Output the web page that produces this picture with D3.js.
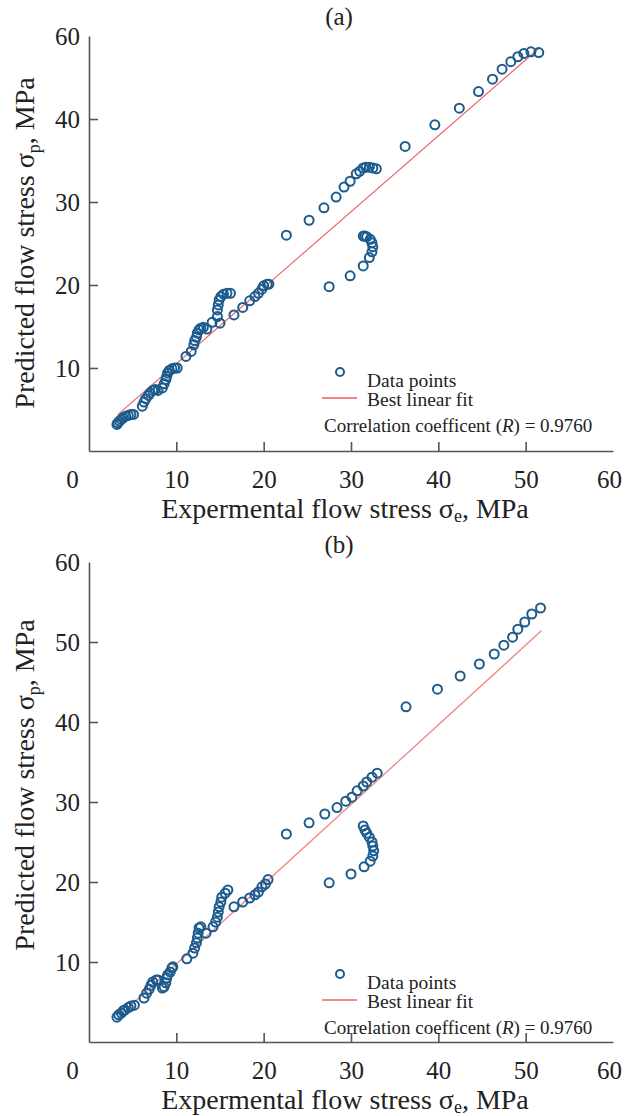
<!DOCTYPE html>
<html>
<head>
<meta charset="utf-8">
<script src="https://cdn.jsdelivr.net/npm/d3@7"></script>
<style>
  body { margin: 0; background: #fff; }
  svg { display: block; font-family: "Liberation Serif", "Times New Roman", serif; }
  .tick text { font-size: 25px; fill: #222; font-family: "Liberation Serif", "Times New Roman", serif; }
  .domain, .tick line { stroke: #555; stroke-width: 1.6; }
</style>
</head>
<body>
<svg width="637" height="1116"></svg>
<script>
// panel (a)
let expA = [3.2, 3.3, 3.5, 3.7, 3.9, 4.2, 4.5, 4.8, 5.1,
  6.1, 6.3, 6.5, 6.8, 7.0, 7.3, 7.6, 7.9,
  8.4, 8.6, 8.8, 8.9, 9.0, 9.2, 9.5, 9.8, 10.1,
  11.1, 11.7,
  12.0, 12.1, 12.3, 12.4, 12.6, 12.8, 13.1, 13.5,
  14.1, 14.7, 15.0,
  14.7, 14.8, 14.9, 15.1, 15.4, 15.8, 16.2,
  16.6, 17.6, 18.4, 19.0, 19.4, 19.8, 20.0, 20.4, 20.6,
  22.6, 25.2, 26.9, 28.3,
  29.2, 29.9, 30.6, 31.0, 31.4, 31.7, 32.1, 32.5, 32.9,
  27.5, 29.9, 31.4, 32.1, 32.4, 32.5, 32.4, 32.2, 31.8, 31.6, 31.4,
  36.2, 39.6, 42.4, 44.6, 46.2, 47.3, 48.3, 49.1, 49.8, 50.6, 51.5];
let predA = [3.2, 3.4, 3.6, 3.8, 4.0, 4.2, 4.3, 4.4, 4.4,
  5.4, 5.9, 6.3, 6.7, 7.0, 7.3, 7.4, 7.3,
  7.6, 8.1, 8.6, 9.0, 9.4, 9.7, 9.9, 10.0, 10.0,
  11.4, 12.0,
  12.8, 13.3, 13.7, 14.2, 14.6, 14.8, 14.9, 14.7,
  15.5, 16.2, 15.4,
  17.0, 17.6, 18.2, 18.6, 18.9, 19.0, 19.0,
  16.4, 17.3, 18.1, 18.6, 19.0, 19.5, 19.9, 20.1, 20.1,
  26.0, 27.8, 29.3, 30.6,
  31.8, 32.5, 33.4, 33.7, 34.1, 34.2, 34.2, 34.1, 34.0,
  19.8, 21.1, 22.3, 23.3, 24.0, 24.6, 25.1, 25.5, 25.8, 25.9, 25.9,
  36.7, 39.3, 41.3, 43.3, 44.8, 46.0, 46.9, 47.5, 47.9, 48.1, 48.0];
let fitA = { slope: 0.915, intercept: 1.37, from: 3.3, to: 51.5 };

// panel (b)
let expB = [3.2, 3.4, 3.7, 3.9, 4.1, 4.5, 4.8, 5.2,
  6.3, 6.6, 6.9, 7.1, 7.3, 7.7, 7.9,
  8.4, 8.6, 8.8, 8.9, 9.0, 9.3, 9.5, 9.6,
  11.2, 11.9,
  12.1, 12.3, 12.4, 12.5, 12.6, 12.8,
  13.4, 14.2,
  14.5, 14.7, 14.8, 14.9, 15.1, 15.2, 15.6, 15.9,
  16.6, 17.6, 18.4, 19.0, 19.4, 19.8, 20.2, 20.5,
  22.6, 25.2, 27.0, 28.4, 29.4, 30.1, 30.7, 31.4, 31.8, 32.4, 33.0,
  27.5, 30.0, 31.5, 32.2, 32.5, 32.6, 32.5, 32.4, 32.1, 31.8, 31.6, 31.4,
  36.3, 39.9, 42.5, 44.7, 46.4, 47.5, 48.5, 49.1, 49.9, 50.7, 51.7];
let predB = [3.1, 3.4, 3.6, 3.9, 4.0, 4.3, 4.5, 4.6,
  5.5, 6.1, 6.6, 7.1, 7.5, 7.75, 7.75,
  6.75, 6.9, 7.4, 8.0, 8.4, 8.75, 9.25, 9.4,
  10.4, 11.1,
  11.75, 12.4, 13.0, 13.6, 14.25, 14.4,
  13.6, 14.4,
  15.0, 15.6, 16.25, 16.9, 17.5, 18.1, 18.6, 19.0,
  16.9, 17.5, 18.0, 18.4, 18.75, 19.4, 19.75, 20.3,
  26.0, 27.4, 28.5, 29.3, 30.1, 30.6, 31.4, 32.0, 32.5, 33.1, 33.6,
  19.9, 21.0, 21.9, 22.6, 23.25, 23.9, 24.5, 25.0, 25.6, 26.1, 26.5, 27.0,
  41.9, 44.1, 45.75, 47.25, 48.5, 49.6, 50.6, 51.6, 52.5, 53.5, 54.25];
let fitB = { slope: 0.996, intercept: -0.2, from: 3.3, to: 51.8 };

let xTicks = [0, 10, 20, 30, 40, 50, 60];
let yTicksA = [10, 20, 30, 40, 50];
let yTickLabelsA = ['10', '20', '30', '40', '60'];
let yTicksB = [10, 20, 30, 40, 50, 60];
let yTickLabelsB = ['10', '20', '30', '40', '50', '60'];
let legendText = ['Data points', 'Best linear fit'];
let corrText = '0.9760';

let svg = d3.select('svg');

let panels = [
  { title: '(a)', xs: expA, ys: predA, fit: fitA, yDomain: [0, 50], yTicks: yTicksA, yLabels: yTickLabelsA,
    top: 36, bottom: 451, titleY: 25, yTitleY: 243, legY: 372, fitColor: '#f05a5a', fitW: 1.1 },
  { title: '(b)', xs: expB, ys: predB, fit: fitB, yDomain: [0, 60], yTicks: yTicksB, yLabels: yTickLabelsB,
    top: 562, bottom: 1042, titleY: 553, yTitleY: 785, legY: 974, fitColor: '#f28a8a', fitW: 1.4 }
];

panels.forEach(p => drawPanel(p));

function drawPanel(p) {
  let x = d3.scaleLinear().domain([0, 60]).range([89, 613]);
  let y = d3.scaleLinear().domain(p.yDomain).range([p.bottom, p.top]);
  let g = svg.append('g');

  // x axis
  let gx = g.append('g').attr('transform', `translate(0,${p.bottom})`)
    .call(d3.axisBottom(x).tickValues(xTicks).tickSizeInner(-9).tickSizeOuter(0).tickPadding(19).tickFormat(d3.format('d')));
  gx.selectAll('.tick').filter(d => d === 0 || d === 60).select('line').remove();
  gx.selectAll('.tick').filter(d => d === 0).select('text').attr('dx', -17);
  gx.selectAll('.tick').filter(d => d === 60).select('text').attr('dx', -4);

  // y axis
  let gy = g.append('g').attr('transform', 'translate(89,0)')
    .call(d3.axisLeft(y).tickValues(p.yTicks).tickSizeInner(-9).tickSizeOuter(0).tickPadding(9)
      .tickFormat((d, i) => p.yLabels[i]));
  gy.selectAll('.tick').filter(d => d === p.yDomain[1]).select('line').remove();

  // title
  g.append('text').attr('x', 339).attr('y', p.titleY).attr('text-anchor', 'middle')
    .attr('font-size', 25).attr('fill', '#222').text(p.title);

  // x title
  let xt = g.append('text').attr('x', 345).attr('y', p.bottom + 67).attr('text-anchor', 'middle')
    .attr('font-size', 28).attr('fill', '#222');
  xt.append('tspan').text('Expermental flow stress σ');
  xt.append('tspan').attr('font-size', 18).attr('dy', 4).text('e');
  xt.append('tspan').attr('dy', -4).text(', MPa');

  // y title
  let yt = g.append('text').attr('transform', `translate(34,${p.yTitleY}) rotate(-90)`).attr('text-anchor', 'middle')
    .attr('font-size', 28).attr('fill', '#222');
  yt.append('tspan').text('Predicted flow stress σ');
  yt.append('tspan').attr('font-size', 18).attr('dy', 6).text('p');
  yt.append('tspan').attr('dy', -6).text(', MPa');

  // fit line
  g.append('line')
    .attr('x1', x(p.fit.from)).attr('y1', y(p.fit.slope * p.fit.from + p.fit.intercept))
    .attr('x2', x(p.fit.to)).attr('y2', y(p.fit.slope * p.fit.to + p.fit.intercept))
    .attr('stroke', p.fitColor).attr('stroke-width', p.fitW);

  // points
  g.append('g').selectAll('circle').data(p.xs.map((v, i) => [v, p.ys[i]])).join('circle')
    .attr('cx', d => x(d[0])).attr('cy', d => y(d[1])).attr('r', 4.5)
    .attr('fill', 'none').attr('stroke', '#1c5b8d').attr('stroke-width', 2);

  // legend
  let lg = g.append('g').attr('font-size', 19.5).attr('fill', '#222');
  lg.append('circle').attr('cx', 340).attr('cy', p.legY).attr('r', 4).attr('fill', 'none')
    .attr('stroke', '#1c5b8d').attr('stroke-width', 2);
  lg.append('text').attr('x', 367).attr('y', p.legY + 15).text(legendText[0]);
  lg.append('line').attr('x1', 322).attr('x2', 357).attr('y1', p.legY + 26).attr('y2', p.legY + 26)
    .attr('stroke', p.fitColor).attr('stroke-width', p.fitW + 0.4);
  lg.append('text').attr('x', 367).attr('y', p.legY + 34).text(legendText[1]);
  let ct = lg.append('text').attr('x', 324).attr('y', p.legY + 60).attr('font-size', 19);
  ct.append('tspan').text('Correlation coefficent (');
  ct.append('tspan').attr('font-style', 'italic').text('R');
  ct.append('tspan').text(') = ' + corrText);
}
</script>
</body>
</html>
